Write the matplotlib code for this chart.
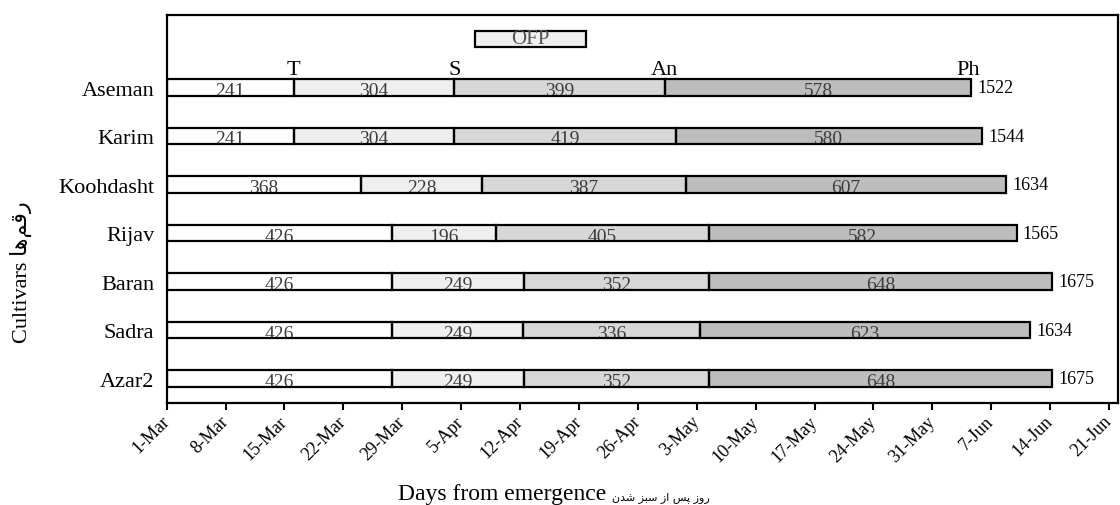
import matplotlib
matplotlib.use("Agg")
import matplotlib.pyplot as plt
import numpy as np

# ---------------- data ----------------
cultivars = ['Aseman', 'Karim', 'Koohdasht', 'Rijav', 'Baran', 'Sadra', 'Azar2']
gdd_T = [241, 241, 368, 426, 426, 426, 426]
gdd_S = [304, 304, 228, 196, 249, 249, 249]
gdd_An = [399, 419, 387, 405, 352, 336, 352]
gdd_Ph = [578, 580, 607, 582, 648, 623, 648]
gdd_total = [1522, 1544, 1634, 1565, 1675, 1634, 1675]
# day (from 1-Mar) at which each stage is reached
day_T = [15.1, 15.1, 23.1, 26.8, 26.8, 26.8, 26.8]
day_S = [34.2, 34.2, 37.5, 39.1, 42.5, 42.4, 42.5]
day_An = [59.2, 60.5, 61.7, 64.5, 64.5, 63.4, 64.5]
day_Ph = [95.6, 96.9, 99.8, 101.0, 105.2, 102.6, 105.2]
stage_names = ['T', 'S', 'An', 'Ph']
ofp_start, ofp_end = 36.6, 49.8
tick_days = list(range(0, 113, 7))
tick_labels = ['1-Mar', '8-Mar', '15-Mar', '22-Mar', '29-Mar', '5-Apr', '12-Apr',
               '19-Apr', '26-Apr', '3-May', '10-May', '17-May', '24-May', '31-May',
               '7-Jun', '14-Jun', '21-Jun']

SERIF = 'Liberation Serif'
seg_colors = ['#ffffff', '#efefef', '#d7d7d7', '#bdbdbd']

fig = plt.figure(figsize=(11.2, 5.06), dpi=100)
W, H = 1120, 506
ax = fig.add_axes([166.7 / W, 1 - 404 / H, (1117.5 - 166.7) / W, (404 - 15.7) / H])

bar_h = 0.34
n = len(cultivars)
for i, name in enumerate(cultivars):
    y = n - 1 - i
    bounds = [0, day_T[i], day_S[i], day_An[i], day_Ph[i]]
    vals = [gdd_T[i], gdd_S[i], gdd_An[i], gdd_Ph[i]]
    for k in range(4):
        left = bounds[k]
        width = bounds[k + 1] - bounds[k]
        cont = ax.barh(y, width, left=left, height=bar_h, color=seg_colors[k],
                       edgecolor='none', zorder=2)
        patch = cont.patches[0]
        t = ax.text(left + width / 2, y - 0.06, str(vals[k]), ha='center', va='center',
                    fontsize=14, family=SERIF, color='#3c3c3c', zorder=3)
        t.set_clip_path(patch)
        ax.barh(y, width, left=left, height=bar_h, fill=False,
                edgecolor='black', linewidth=1.6, zorder=4)
    ax.text(day_Ph[i] + 0.75, y, str(gdd_total[i]), ha='left', va='center',
            fontsize=13, family=SERIF, color='black')

# stage labels above first bar
stage_x = [day_T[0], day_S[0], day_An[0], day_Ph[0] - 0.35]
for name, sx in zip(stage_names, stage_x):
    ax.text(sx, n - 1 + 0.28, name, ha='center', va='baseline',
            fontsize=16, family=SERIF, color='black')

# OFP box
ofp = ax.barh(n, ofp_end - ofp_start, left=ofp_start, height=bar_h,
              color='#efefef', edgecolor='black', linewidth=1.6, zorder=2)
ax.text((ofp_start + ofp_end) / 2, n, 'OFP', ha='center', va='center',
        fontsize=15, family=SERIF, color='#555555', zorder=3)

ax.set_xlim(0, 113)
ax.set_ylim(-0.5, 7.5)
ax.set_yticks(range(n))
ax.set_yticklabels(cultivars[::-1], fontsize=16, family=SERIF)
ax.tick_params(axis='y', length=0, pad=9)
ax.set_xticks(tick_days)
ax.set_xticklabels(tick_labels, rotation=45, ha='right', va='center',
                   rotation_mode='anchor', fontsize=13, family=SERIF)
ax.tick_params(axis='x', direction='out', length=5, width=1.5, pad=6)
for s in ax.spines.values():
    s.set_linewidth(1.6)
    s.set_color('black')

# axis titles (English + Persian)
fa_x = '\uFEE5\uFEAA\uFEB7 \uFEB0\uFE92\uFEB3 \uFEAF\uFE8D \uFEB2\uFB58 \uFEAF\uFEED\uFEAD'
fa_y = '\uFE8E\uFEEB\uFEE2\uFED7\uFEAD'
fig.text(398 / W, 1 - 500 / H, 'Days from emergence', ha='left', va='baseline',
         fontsize=17, family=SERIF)
fig.text(612 / W, 1 - 500 / H, fa_x, ha='left', va='baseline',
         fontsize=8, family=['DejaVu Sans'])
fig.text(21 / W, 1 - 272 / H, 'Cultivars ' + fa_y, rotation=90, ha='center', va='center',
         fontsize=16, family=[SERIF, 'DejaVu Sans'])

fig.savefig('out.png', dpi=100)
